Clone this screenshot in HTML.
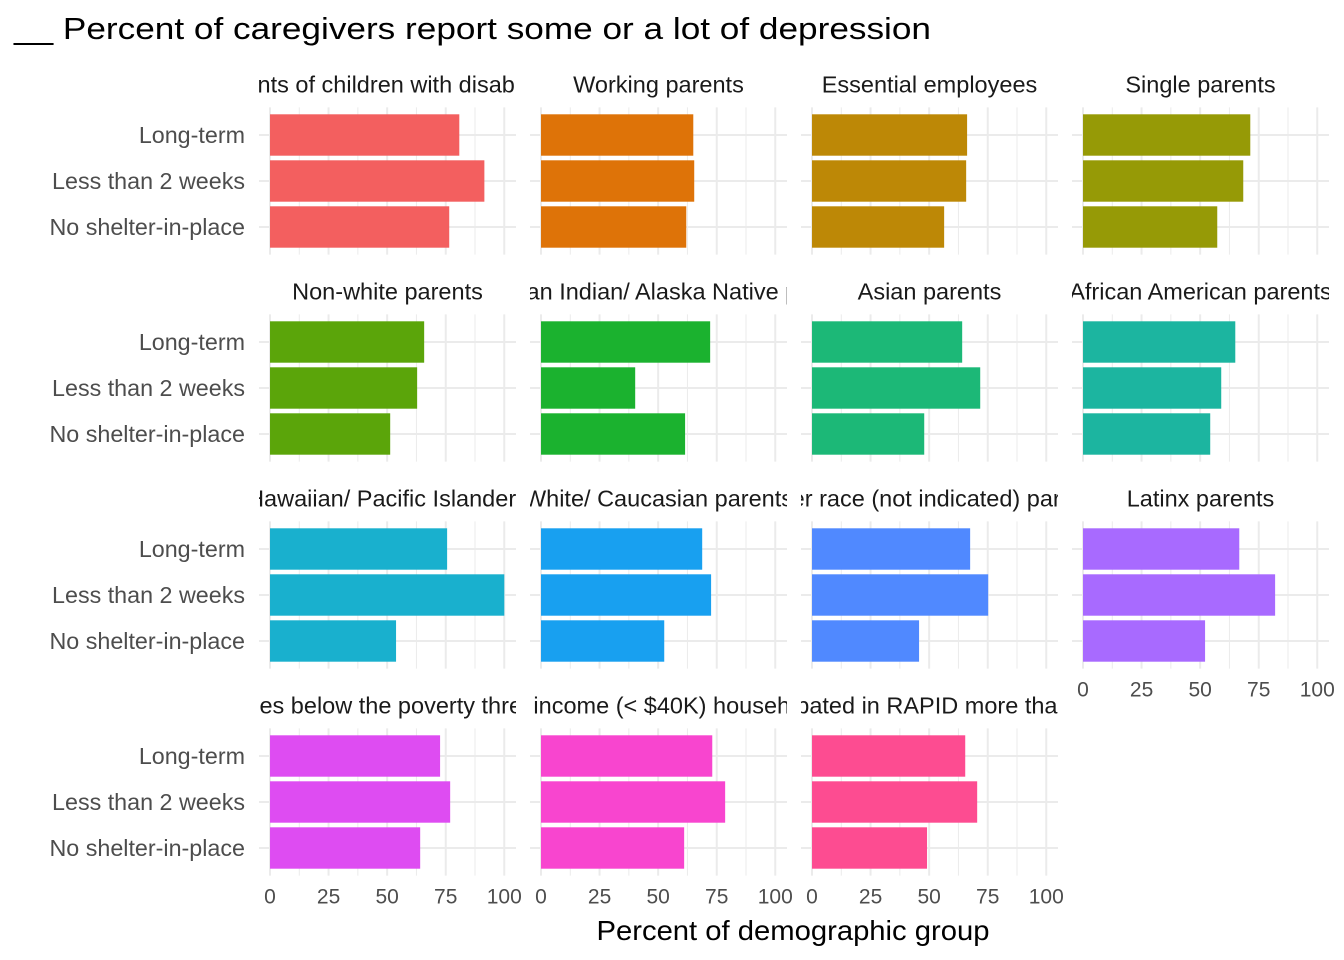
<!DOCTYPE html>
<html><head><meta charset="utf-8"><style>
html,body{margin:0;padding:0;background:#fff;}
svg{display:block;font-family:"Liberation Sans",Arial,sans-serif;}
</style></head><body>
<svg id="chart" width="1344" height="960" viewBox="0 0 1344 960" xmlns="http://www.w3.org/2000/svg">
<rect width="1344" height="960" fill="#fff"/>
<text x="14" y="39" font-size="31" textLength="917" lengthAdjust="spacingAndGlyphs" fill="#000">__ Percent of caregivers report some or a lot of depression</text>
<text x="793" y="940" font-size="28" textLength="393" lengthAdjust="spacingAndGlyphs" text-anchor="middle" fill="#000">Percent of demographic group</text>
<defs id="defs"></defs>
<g id="panels"></g>
</svg>
<script>
const categories = ["Long-term", "Less than 2 weeks", "No shelter-in-place"];
const groups = ["Parents of children with disabilities","Working parents","Essential employees","Single parents",
"Non-white parents","American Indian/ Alaska Native parents","Asian parents","African American parents",
"Native Hawaiian/ Pacific Islander parents","White/ Caucasian parents","Other race (not indicated) parents","Latinx parents",
"Families below the poverty threshold","Low income (< $40K) households","Participated in RAPID more than once"];
const longTerm = [80.8,65,66.2,71.4, 65.8,72.2,64.1,65, 75.6,68.8,67.5,66.7, 72.6,73.1,65.4];
const lessThan2 = [91.5,65.4,65.8,68.4, 62.8,40.2,71.8,59, 100,72.6,75.2,82, 76.9,78.6,70.5];
const noShelter = [76.5,62,56.4,57.3, 51.3,61.5,47.9,54.3, 53.8,52.6,45.7,52.1, 64.1,61.1,49.1];
const tickValues = [0,25,50,75,100];
const tickLabels = ["0","25","50","75","100"];
const colors = ["#F35F5F","#DE7308","#BD8806","#969A06","#5BA50A","#1BB22F","#1CB877","#1CB5A0","#19B0CE","#18A0F0","#5089FF","#A86AFF","#DE4CF2","#F845CF","#FD4C91"];

const NS="http://www.w3.org/2000/svg";
const panelsG=document.getElementById('panels');
const defs=document.getElementById('defs');
function mk(tag,attrs,parent){const e=document.createElementNS(NS,tag);for(const k in attrs)e.setAttribute(k,attrs[k]);parent.appendChild(e);return e;}
const colLeft=[259,530,801,1072], panelW=257;
const rowTop=[107.4,314.4,521.4,728.4], step=46, panelH=147.2;
const xMin=-4.7,xMax=105;
function xScale(col,v){return colLeft[col]+(v-xMin)/(xMax-xMin)*panelW;}
function yScale(row,i){return rowTop[row]+(0.6+i)*step;}
const series=[longTerm,lessThan2,noShelter];
groups.forEach((g,idx)=>{
  const row=Math.floor(idx/4), col=idx%4;
  const pg=mk('g',{},panelsG);
  
  
  for(let v=12.5;v<=100;v+=25){mk('line',{x1:xScale(col,v),x2:xScale(col,v),y1:rowTop[row],y2:rowTop[row]+panelH,stroke:'#EBEBEB','stroke-width':1},pg);}
  tickValues.forEach(v=>{mk('line',{x1:xScale(col,v),x2:xScale(col,v),y1:rowTop[row],y2:rowTop[row]+panelH,stroke:'#EBEBEB','stroke-width':2},pg);});
  categories.forEach((c,i)=>{mk('line',{x1:colLeft[col],x2:colLeft[col]+panelW,y1:yScale(row,i),y2:yScale(row,i),stroke:'#EBEBEB','stroke-width':2},pg);});
  series.forEach((s,i)=>{
    const b=mk('rect',{x:xScale(col,0),y:yScale(row,i)-20.7,width:xScale(col,s[idx])-xScale(col,0),height:41.4,fill:colors[idx]},pg);
    
    
  });
  const cp=mk('clipPath',{id:'clip'+idx},defs);
  mk('rect',{x:colLeft[col],y:rowTop[row]-40,width:panelW,height:40},cp);
  const st=mk('text',{x:colLeft[col]+panelW/2,y:rowTop[row]-15,'font-size':23.5,'text-anchor':'middle',fill:'#1a1a1a','clip-path':'url(#clip'+idx+')'},pg);
  st.textContent=g;
  
  
  if(col===0){categories.forEach((c,i)=>{
    const t=mk('text',{x:245,y:yScale(row,i)+8,'font-size':23.3,'text-anchor':'end',fill:'#4d4d4d'},pg);
    t.textContent=c;
    
    
  });}
  if(row===3||(row===2&&col===3)){tickValues.forEach((v,k)=>{
    const t=mk('text',{x:xScale(col,v),y:rowTop[row]+panelH+28,'font-size':21,'text-anchor':'middle',fill:'#4d4d4d'},pg);
    t.textContent=tickLabels[k];
    
    
  });}
});
</script>
</body></html>
